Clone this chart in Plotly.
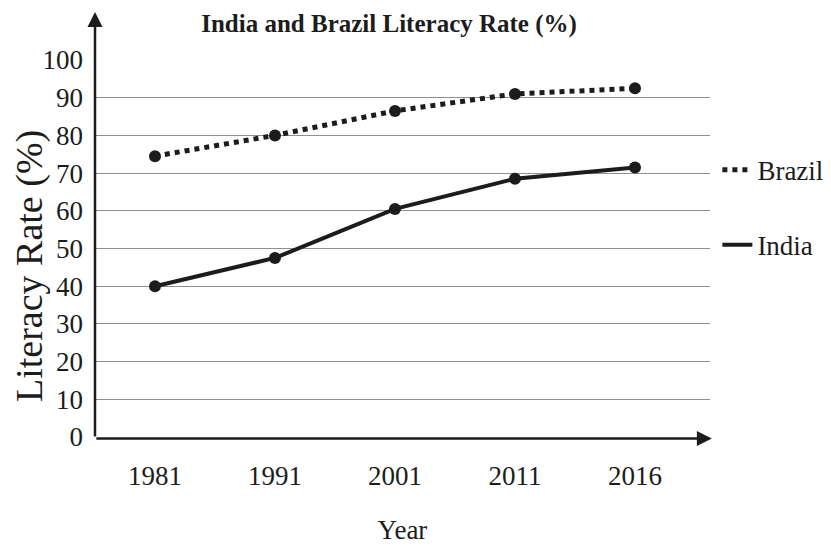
import plotly.graph_objects as go

years = ["1981", "1991", "2001", "2011", "2016"]
brazil = [74.5, 80, 86.5, 91, 92.5]
india = [40, 47.5, 60.5, 68.5, 71.5]
y_ticks = list(range(0, 101, 10))

FONT = "Liberation Serif, Times New Roman, serif"
INK = "#1c1c1c"

fig = go.Figure()
fig.add_trace(go.Scatter(
    x=years, y=brazil, mode="lines+markers", name="Brazil", showlegend=False,
    line=dict(color=INK, width=5, dash="dot"),
    marker=dict(color=INK, size=12, symbol="circle"),
))
fig.add_trace(go.Scatter(
    x=years, y=india, mode="lines+markers", name="India", showlegend=False,
    line=dict(color=INK, width=4),
    marker=dict(color=INK, size=12, symbol="circle"),
))
# legend entries (line only)
fig.add_trace(go.Scatter(
    x=[None], y=[None], mode="lines", name="Brazil", legendgroup="b",
    line=dict(color=INK, width=5, dash="dot"),
))
fig.add_trace(go.Scatter(
    x=[None], y=[None], mode="lines", name="India", legendgroup="i",
    line=dict(color=INK, width=4),
))

fig.update_layout(
    width=823, height=541,
    margin=dict(l=87, r=121, t=52, b=112, autoexpand=False),
    paper_bgcolor="white", plot_bgcolor="white",
    font=dict(family=FONT, color=INK, size=26),
    title=dict(text="<b>India and Brazil Literacy Rate (%)</b>", x=0.463, xanchor="center",
               xref="container", y=0.972, yanchor="middle", yref="container",
               font=dict(family=FONT, size=25, color=INK)),
    showlegend=True,
    legend=dict(x=1.012, xanchor="left", y=0.773, yanchor="top",
                font=dict(family=FONT, size=27, color=INK),
                bgcolor="rgba(0,0,0,0)", itemwidth=30, tracegroupgap=37,
                traceorder="grouped"),
    xaxis=dict(
        type="category", categoryorder="array", categoryarray=years,
        range=[-0.5, 4.625], showgrid=False, zeroline=False, automargin=False,
        showline=False, ticks="", ticklabelstandoff=20,
        tickfont=dict(family=FONT, size=27, color=INK),
        title=dict(text="Year", standoff=30, font=dict(family=FONT, size=27, color=INK)),
    ),
    yaxis=dict(
        range=[0, 100], tickvals=y_ticks, ticktext=[str(v) for v in y_ticks],
        showgrid=True, gridcolor="#8f8f8f", gridwidth=1, zeroline=False, automargin=False,
        showline=False, ticks="", ticklabelstandoff=11,
        tickfont=dict(family=FONT, size=27, color=INK),
    ),
)

# y-axis title placed like the reference (slightly below centre)
fig.add_annotation(xref="paper", yref="paper", x=-0.1057, y=0.4536,
                   xanchor="center", yanchor="middle", showarrow=False,
                   text="Literacy Rate (%)", textangle=-90,
                   font=dict(family=FONT, size=38, color=INK))

# axis lines with arrowheads
fig.add_annotation(xref="paper", yref="paper", x=1.003, y=-0.004, ax=-617, ay=0,
                   axref="pixel", ayref="pixel", showarrow=True, arrowhead=2,
                   arrowsize=1.2, arrowwidth=2.5, arrowcolor=INK, text="")
fig.add_annotation(xref="paper", yref="paper", x=0, y=1.127, ax=0, ay=426,
                   axref="pixel", ayref="pixel", showarrow=True, arrowhead=2,
                   arrowsize=1.2, arrowwidth=2.5, arrowcolor=INK, text="")

fig.write_html("out.html")
